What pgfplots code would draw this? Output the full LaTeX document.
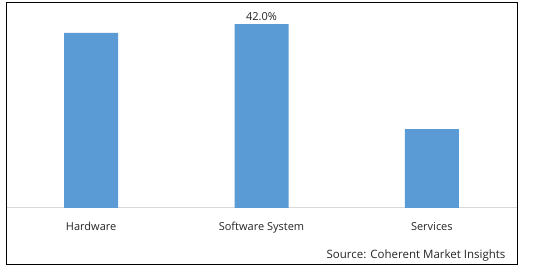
\documentclass[border=0pt]{standalone}
\usepackage{pgfplots}
\pgfplotsset{compat=1.18}
\usepackage{fontspec}
\setmainfont{Open Sans}
\definecolor{barblue}{HTML}{5B9BD5}
\definecolor{axgray}{HTML}{D9D9D9}
\definecolor{txt}{HTML}{262626}
\begin{document}
\begin{tikzpicture}[x=1pt,y=1pt]
\fill[white] (0,0) rectangle (538,272);
\begin{axis}[
  at={(6pt,64pt)}, anchor=south west,
  scale only axis, width=511pt, height=197.1pt,
  xmin=-0.5, xmax=2.5, ymin=0, ymax=45,
  axis x line=bottom, axis y line=none,
  x axis line style={axgray, line width=1pt, -},
  xtick={0,1,2},
  xticklabels={Hardware, Software System, Services},
  major tick length=0pt,
  ytick=\empty,
  x tick label style={font=\fontsize{11}{13}\selectfont, text=txt, yshift=-11pt},
  ybar, bar width=54pt,
  point meta=explicit symbolic,
  nodes near coords,
  nodes near coords style={font=\fontsize{11}{13}\selectfont, text=txt, yshift=0pt},
  clip=false,
]
\addplot[fill=barblue, draw=none] coordinates {(0,40) [] (1,42) [42.0\%] (2,18) []};
\end{axis}
\draw[black, line width=1pt] (6,7) rectangle (517,269);
\node[anchor=east, font=\fontsize{11.5}{13}\selectfont, text=txt] at (509,16) {Source: Coherent Market Insights};
\end{tikzpicture}
\end{document}
